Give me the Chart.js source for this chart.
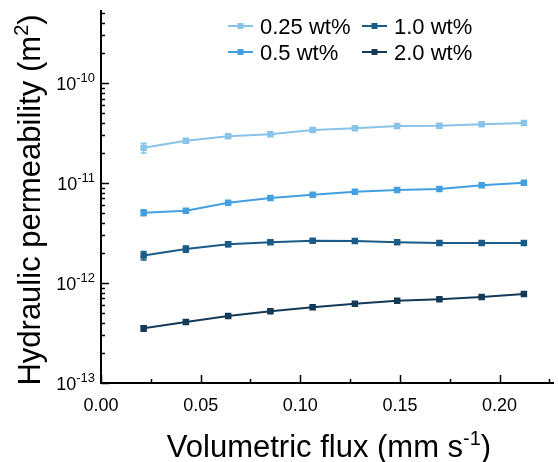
<!DOCTYPE html>
<html>
<head>
<meta charset="utf-8">
<script src="https://cdn.jsdelivr.net/npm/chart.js@4"></script>
<style>
  html, body { margin: 0; padding: 0; background: #fff; }
  canvas { display: block; }
</style>
</head>
<body>
<canvas id="chart" width="558" height="462"></canvas>
<script>
// volumetric flux (mm s^-1)
const flux = [0.0214, 0.0426, 0.0638, 0.0850, 0.1062, 0.1274, 0.1486, 0.1698, 0.1910, 0.2122];

// hydraulic permeability (m^2)
const perm025 = [2.25e-11, 2.65e-11, 2.93e-11, 3.07e-11, 3.39e-11, 3.52e-11, 3.72e-11, 3.74e-11, 3.86e-11, 3.98e-11];
const perm05  = [5.05e-12, 5.28e-12, 6.35e-12, 7.08e-12, 7.64e-12, 8.18e-12, 8.51e-12, 8.71e-12, 9.49e-12, 1.007e-11];
const perm10  = [1.88e-12, 2.19e-12, 2.44e-12, 2.55e-12, 2.65e-12, 2.63e-12, 2.55e-12, 2.51e-12, 2.51e-12, 2.51e-12];
const perm20  = [3.52e-13, 4.07e-13, 4.68e-13, 5.21e-13, 5.71e-13, 6.20e-13, 6.64e-13, 6.86e-13, 7.24e-13, 7.76e-13];

// error bars (+/-)
const err025 = [0.25e-11, 0.10e-11, 0.08e-11, 0.06e-11, 0.05e-11, 0.05e-11, 0.04e-11, 0.04e-11, 0.04e-11, 0.04e-11];
const err05  = [0.35e-12, 0.20e-12, 0.12e-12, 0.10e-12, 0.08e-12, 0.08e-12, 0.06e-12, 0.06e-12, 0.06e-12, 0.06e-12];
const err10  = [0.18e-12, 0.16e-12, 0.12e-12, 0.08e-12, 0.06e-12, 0.06e-12, 0.05e-12, 0.05e-12, 0.05e-12, 0.05e-12];
const err20  = [0.22e-13, 0.20e-13, 0.15e-13, 0.12e-13, 0.10e-13, 0.10e-13, 0.08e-13, 0.08e-13, 0.08e-13, 0.08e-13];

const labels = ['0.25 wt%', '0.5 wt%', '1.0 wt%', '2.0 wt%'];
const colors = ['#88c3ea', '#43a0e0', '#1b5b87', '#153a58'];
const seriesVals = [perm025, perm05, perm10, perm20];
const seriesErr = [err025, err05, err10, err20];

const yTickExps = [-13, -12, -11, -10];
const xMajorStep = 0.05;
const xMinorStep = 0.025;

const FONT = '"Liberation Sans", Arial, sans-serif';

const datasets = seriesVals.map((vals, i) => ({
  label: labels[i],
  data: vals.map((v, j) => ({ x: flux[j], y: v })),
  errors: seriesErr[i],
  borderColor: colors[i],
  backgroundColor: colors[i],
  borderWidth: 2,
  pointStyle: 'rect',
  pointRadius: 4.6,
  pointBorderWidth: 0,
  tension: 0
}));

// error bars under the markers
const errorBars = {
  id: 'errorBars',
  beforeDatasetsDraw(chart) {
    const { ctx } = chart;
    const y = chart.scales.y;
    chart.data.datasets.forEach((ds, i) => {
      const meta = chart.getDatasetMeta(i);
      ctx.save();
      ctx.strokeStyle = ds.borderColor;
      ctx.lineWidth = 1.5;
      meta.data.forEach((pt, j) => {
        const v = ds.data[j].y, e = ds.errors[j];
        const top = y.getPixelForValue(v + e), bot = y.getPixelForValue(v - e);
        ctx.beginPath();
        ctx.moveTo(pt.x, top); ctx.lineTo(pt.x, bot);
        ctx.moveTo(pt.x - 3, top); ctx.lineTo(pt.x + 3, top);
        ctx.moveTo(pt.x - 3, bot); ctx.lineTo(pt.x + 3, bot);
        ctx.stroke();
      });
      ctx.restore();
    });
  }
};

// inward ticks, y labels with exponents, axis titles and legend
const decorations = {
  id: 'decorations',
  afterDraw(chart) {
    const { ctx, chartArea: a } = chart;
    const xs = chart.scales.x, ys = chart.scales.y;
    ctx.save();
    ctx.strokeStyle = '#000';
    ctx.lineWidth = 1.5;
    ctx.beginPath();
    // x ticks
    for (let v = 0; v <= xs.max + 1e-9; v += xMinorStep) {
      const px = Math.round(xs.getPixelForValue(v)) + 0.5;
      const major = Math.abs(v / xMajorStep - Math.round(v / xMajorStep)) < 1e-6;
      ctx.moveTo(px, a.bottom);
      ctx.lineTo(px, a.bottom - (major ? 8 : 4));
    }
    // y ticks
    for (let e = -13; e <= -10; e++) {
      for (let m = 1; m <= 9; m++) {
        const v = m * Math.pow(10, e);
        if (v < ys.min || v > ys.max) continue;
        const py = Math.round(ys.getPixelForValue(v)) + 0.5;
        ctx.moveTo(a.left, py);
        ctx.lineTo(a.left + (m === 1 ? 8 : 4), py);
      }
    }
    ctx.stroke();

    // y tick labels
    ctx.fillStyle = '#000';
    ctx.textBaseline = 'alphabetic';
    ctx.textAlign = 'left';
    yTickExps.forEach(e => {
      const py = ys.getPixelForValue(Math.pow(10, e));
      ctx.font = '13px ' + FONT;
      const sup = String(e);
      const supW = ctx.measureText(sup).width;
      ctx.font = '18px ' + FONT;
      const baseW = ctx.measureText('10').width;
      const right = a.left - 6;
      ctx.fillText('10', right - supW - baseW, py + 7);
      ctx.font = '13px ' + FONT;
      ctx.fillText(sup, right - supW, py - 1);
    });

    // titles
    const drawSup = (parts, cx, cy) => {
      let w = 0;
      parts.forEach(p => { ctx.font = p.size + 'px ' + FONT; w += ctx.measureText(p.t).width; });
      let x = cx - w / 2;
      parts.forEach(p => {
        ctx.font = p.size + 'px ' + FONT;
        ctx.fillText(p.t, x, cy + p.dy);
        x += ctx.measureText(p.t).width;
      });
    };
    drawSup([
      { t: 'Volumetric flux (mm s', size: 31, dy: 0 },
      { t: '-1', size: 20, dy: -12 },
      { t: ')', size: 31, dy: 0 }
    ], 329, 457);
    ctx.save();
    ctx.translate(40, 200);
    ctx.rotate(-Math.PI / 2);
    drawSup([
      { t: 'Hydraulic permeability (m', size: 31, dy: 0 },
      { t: '2', size: 20, dy: -12 },
      { t: ')', size: 31, dy: 0 }
    ], 0, 0);
    ctx.restore();

    // legend, two columns
    const cols = [228, 362], rows = [26, 52];
    const order = [[0, 0, 0], [2, 1, 0], [1, 0, 1], [3, 1, 1]];
    order.forEach(([i, c, r]) => {
      const x = cols[c], y = rows[r];
      ctx.strokeStyle = colors[i];
      ctx.lineWidth = 2;
      ctx.beginPath();
      ctx.moveTo(x, y); ctx.lineTo(x + 25, y);
      ctx.stroke();
      ctx.fillStyle = colors[i];
      ctx.fillRect(x + 9.5, y - 3, 6, 6);
      ctx.fillStyle = '#000';
      ctx.font = '22px ' + FONT;
      ctx.fillText(labels[i], x + 32, y + 8);
    });
    ctx.restore();
  }
};

new Chart(document.getElementById('chart'), {
  type: 'line',
  data: { datasets },
  plugins: [errorBars, decorations],
  options: {
    responsive: false,
    animation: false,
    layout: { padding: { top: 11, right: 1, left: 0, bottom: 0 } },
    plugins: { legend: { display: false }, tooltip: { enabled: false } },
    scales: {
      x: {
        type: 'linear',
        min: 0,
        max: 0.227,
        grid: { display: false, drawTicks: false },
        border: { display: true, color: '#000', width: 2 },
        ticks: {
          stepSize: xMajorStep,
          includeBounds: false,
          autoSkip: false,
          maxRotation: 0,
          padding: 12,
          color: '#000',
          font: { size: 18, family: FONT },
          callback: v => v.toFixed(2)
        },
        afterFit: s => { s.height = 79; }
      },
      y: {
        type: 'logarithmic',
        min: 1e-13,
        max: 5.25e-10,
        grid: { display: false, drawTicks: false },
        border: { display: true, color: '#000', width: 2 },
        ticks: { display: false },
        afterFit: s => { s.width = 101; }
      }
    }
  }
});
</script>
</body>
</html>
